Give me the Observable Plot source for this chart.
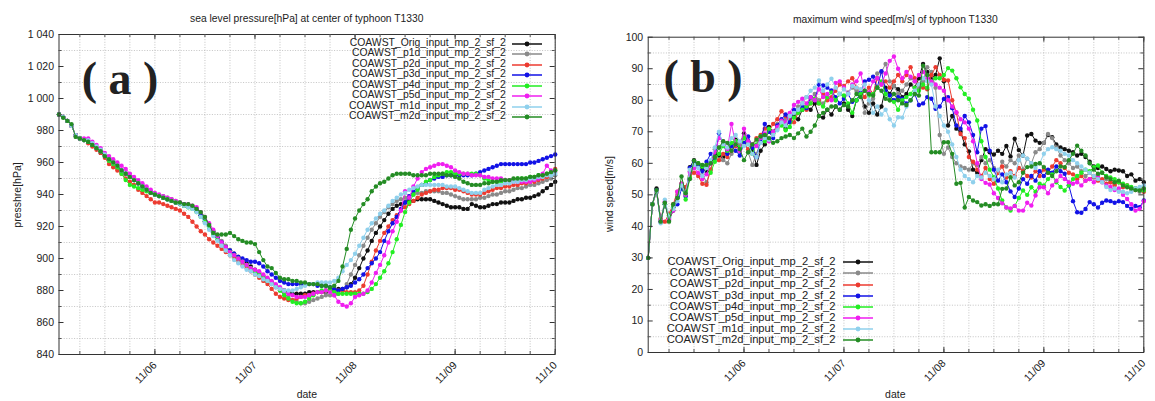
<!DOCTYPE html>
<html><head><meta charset="utf-8">
<script src="https://cdn.jsdelivr.net/npm/d3@7"></script>
<script src="https://cdn.jsdelivr.net/npm/@observablehq/plot@0.6"></script>
<style>
body{margin:0;background:#fff;}
#wrap{position:relative;width:1155px;height:401px;overflow:hidden;font-family:"Liberation Sans",Arial,sans-serif;color:#222;background:#fff;}
.abs{position:absolute;white-space:nowrap;line-height:1;}
.panel{position:absolute;top:0;}
</style></head><body><div id="wrap"></div><script>
// ---------- data ----------
const startTime = "2013-11-05T01:00:00Z";
const endTime = "2013-11-10T00:00:00Z";
const stepHours = 1;
const seriesNames = ["COAWST_Orig_input_mp_2_sf_2","COAWST_p1d_input_mp_2_sf_2","COAWST_p2d_input_mp_2_sf_2","COAWST_p3d_input_mp_2_sf_2","COAWST_p4d_input_mp_2_sf_2","COAWST_p5d_input_mp_2_sf_2","COAWST_m1d_input_mp_2_sf_2","COAWST_m2d_input_mp_2_sf_2"];
const seriesColors = ["#111111","#8a8a8a","#ec3b30","#1212e6","#22ee22","#f01ef0","#8fd0ec","#248c24"];
const dateTicks = ["2013-11-06","2013-11-07","2013-11-08","2013-11-09","2013-11-10"];
const dateTickLabels = ["11/06","11/07","11/08","11/09","11/10"];
const pressureTicks = [840,860,880,900,920,940,960,980,1000,1020,1040];
const pressureTickLabels = ["840","860","880","900","920","940","960","980","1 000","1 020","1 040"];
const windTicks = [0,10,20,30,40,50,60,70,80,90,100];
const titleA = "sea level pressure[hPa] at center of typhoon T1330";
const titleB = "maximum wind speed[m/s] of typhoon T1330";
const yLabelA = "presshre[hPa]";
const yLabelB = "wind speed[m/s]";
const xLabel = "date";
const panelTagA = "( a )";
const panelTagB = "( b )";

const pressOrig = [990,988.5,986,983,977,975,974,973,971,969,966,964,
962,960,957,955,953,951,949,947,945,943,941,940,
939,938,937,936,935,934,933,933,932,930,927,923,
920,917,913,910,907,905,903,901,899,897,895,893,
891,889,887,885,883,881,880,879,878,878,878,878,
879,879,879,879,879,880,880,881,881,882,884,888,
894,900,905,911,916,920,924,928,931,933,934,935,
936,936,937,937,937,937,936,935,934,933,932,932,
932,931,931,934,933,932,932,933,934,934,935,935,
935,936,937,937,938,938,939,940,942,944,946,948];
const pressP1d = [990,988.5,986,983,977,975,974,973,971,969,967,964,
962,960,958,955,953,951,949,947,945,943,942,940,
939,939,938,937,936,935,934,933,932,930,927,924,
921,917,914,911,908,905,903,900,898,896,894,892,
890,888,886,884,882,880,878,876,874,873,872,872,
873,874,875,876,877,877,877,878,880,884,890,896,
902,908,913,918,922,926,929,932,934,936,937,938,
939,940,941,941,942,942,942,942,941,941,940,939,
938,937,937,937,937,938,938,939,940,940,941,942,
942,943,944,944,945,946,946,947,948,949,950,952];
const pressP2d = [990,988.5,986,983,977,975,974,972,970,968,966,963,
959,957,955,953,950,948,946,943,941,939,937,935,
935,934,933,932,931,930,928,926,923,920,917,915,
912,910,908,906,904,902,900,898,896,894,892,890,
888,886,884,881,878,876,875,874,874,875,876,877,
877,878,879,879,880,880,880,880,880,879,879,879,
880,883,890,898,905,911,916,920,924,927,930,932,
934,936,938,940,941,942,943,943,944,944,944,943,
943,942,941,940,940,940,941,942,943,944,944,945,
945,946,946,947,947,948,948,949,950,951,953,956];
const pressP3d = [990,988.5,986,983,977,975,974,973,971,969,967,964,
962,960,958,955,953,951,949,947,945,943,941,940,
939,938,937,936,935,934,934,933,932,930,927,923,
919,916,913,910,907,905,903,901,900,899,898,898,
897,895,892,890,888,886,885,884,884,884,884,884,
884,884,883,883,883,882,881,880,881,882,883,885,
887,890,894,897,900,904,911,917,922,926,931,935,
939,942,944,946,947,949,950,951,951,952,952,952,
952,952,952,952,953,954,955,956,957,958,959,959,
959,959,959,959,959,960,960,961,962,963,964,965];
const pressP4d = [990,988.5,986,983,977,975,974,973,971,969,967,964,
961,959,957,953,949,946,945,944,943,942,941,940,
939,938,937,936,935,934,933,932,931,929,926,923,
919,915,912,909,906,904,902,900,898,896,894,892,
890,888,886,885,883,880,877,875,873,872,872,873,
875,877,879,880,880,880,879,878,878,878,878,878,
878,878,879,881,884,888,892,897,904,912,921,929,
935,940,943,946,948,949,951,952,953,954,954,953,
953,953,953,953,953,952,950,949,948,948,948,949,
949,949,950,950,950,951,951,952,952,953,954,955];
const pressP5d = [990,988.5,986,983,977,975,975,975,973,971,969,966,
964,962,960,958,956,953,951,949,947,945,943,941,
940,939,938,937,936,935,934,934,933,932,929,926,
922,918,914,910,907,904,902,900,898,896,894,893,
892,890,888,886,884,882,880,878,877,876,876,876,
877,878,879,879,880,879,877,873,871,870,872,876,
877,878,880,885,891,896,902,910,917,923,930,942,
938,945,950,954,956,957,958,959,959,958,957,955,
954,953,953,952,952,952,951,951,950,950,950,949,
949,948,948,948,948,948,949,950,953,958,955,954];
const pressM1d = [990,988.5,986,983,977,975,974,974,972,970,968,965,
962,960,958,955,953,951,949,947,945,943,941,940,
939,938,937,936,935,934,933,932,931,929,926,922,
918,914,911,908,905,902,899,897,895,893,892,890,
889,887,886,884,882,881,880,880,880,881,882,883,
884,884,885,885,885,885,886,888,892,896,899,903,
908,913,918,922,925,928,930,933,936,938,940,941,
943,944,945,946,946,946,946,946,946,945,945,945,
944,943,942,941,941,941,943,944,945,946,946,947,
947,948,948,949,949,950,950,951,951,952,952,953];
const pressM2d = [990,988,986,984,976,975,974,973,971,969,967,964,
962,960,958,955,953,951,949,947,945,943,941,940,
939,938,937,936,935,935,934,934,933,931,929,926,
921,916,915,915,915,916,914,912,911,910,910,909,
904,899,895,894,891,888,887,887,886,886,885,885,
884,884,884,883,883,882,883,886,895,906,918,925,
930,934,937,942,945,947,948,950,952,953,953,953,
953,952,952,952,952,953,953,953,953,952,952,951,
950,948,947,946,946,946,947,947,948,948,949,949,
949,950,950,950,950,951,951,952,952,953,954,955];

const windOrig = [30,47,52,41.5,47.5,42,45,49,53,50,58.8,61,
59.5,58,57.5,60,63,62.5,62,64,66,67.5,66,69.5,
67,64,59.5,64,66,71.5,70,72,73,71,74,75,
74,77,78,77,79,75,74.5,77,75.5,78,77,79,
77,75,80,82,78,76,79,75.5,78,84,82,84.5,
83.5,81,82,85,84,87,91.5,89,87,88,93.3,86,
72,75,71,70,66,63.8,58,57,61,64.5,63.5,62.8,
64,63,65.5,62.2,67.8,64.2,62.5,68.8,69.3,67.2,66.5,66.5,
69,68.3,66,65,64.5,64,63.5,62.5,63,62,60.5,59,
58.5,59,58.2,57.5,58,57.7,57.5,56,56.5,54.5,55,54];
const windP1d = [30,47,51,42,47,43,46,50,53.5,51,57.5,60,
59,56.5,54,58,64.5,65,61,60,63,67,66,68.5,
63.5,59.5,63,67,69,70,69,72.5,73,74,73,76,
78,79,81,80.5,82,80,79,81,80.5,80,82,81,
82.5,84,83,82,76,79,80.5,88.5,89,91.5,86,84.5,
82,83,85,87,86,84,86,90.5,89,84,69,63,
65,62,60,59,58.5,58,60,59.5,62,60,61,58.5,
57,60.5,59,61,60,62.5,58,61.5,60,63.5,64.5,66.5,
69.3,68,65,62.5,61,60,58.5,59,57.5,56,57,55.5,
56,54.5,55,54,53.5,54,52.5,53,51.5,52,51,52];
const windP2d = [30,47,51,42.5,41.5,44,47,51,53.5,52.5,56,57,
56,53.5,53.2,58,62,61,63,62,64,65.5,64,66,
64.5,66,68,69,71,70,72.5,74,76.5,75,74,73,
76,78,77,79,80.5,79,82,80,81,83,85,84.5,
86,87,84,83,81,84,82,87,85,86,84,86,
88,86,88,90.5,87,85,84,83.5,88,90.5,88,86.5,
86.3,80,76,69.3,68,62,60.5,58,56,58.5,55,53.5,
57,59,55.5,57.5,56,58.5,57.5,56,55.5,57.5,56,58,
57,59,61,60,58.5,57,56.5,55,56,54.5,55,56,
54.5,55,53.5,54,53,54,52.5,53,52,51.5,52,51];
const windP3d = [30,47,51.5,41.5,47,43,46,47,52,49.5,58.5,60.5,
59,57.5,60.5,63,61.5,69.5,66,63,65.5,64,62.5,66.5,
68.5,65,62,67,72.5,70,68,72,74,75.5,73,77,
76.5,78,77.5,81,80,85,84.7,84,83.1,81,79,80.5,
82,79.5,80,82.5,86,86.5,87.5,84,89.2,83,81.5,80,
81,80.5,79,80,82,78.5,79,81,80.5,77.3,78,80.4,
81,77.5,72,71,75,73,69,63.5,71,71.8,64,58,
54.5,56.5,54,51.1,49.3,52,55,53.5,56,54.5,57.5,56,
58,57,59,57.5,56.7,53,48,44.5,44.3,45.5,47.7,47,
46,47.5,48.2,48,47.5,48,47.7,46.5,45.6,46.5,46.1,48.2];
const windP4d = [30,47,51,42,47,43.5,46,49,53,48.5,55.5,59.5,
60,59,59.5,57,60.5,63,65.5,64,66.5,67,65,68,
66.5,63,66,68.5,67,71,69.5,71,72,70.5,71.5,74.5,
76,77,78,79,80.5,79,78,81,82.5,80,82,81.5,
79,76,80,82,83,81.5,82,84,86,82,80,79.5,
77,80,81,82,84,83,85,84,86,87,87,88,
90.2,89.4,87,84.1,82,80.5,77,73.6,67,62,58,55.6,
52,48.2,46,45,46.5,49,51.4,50,52.4,51,53.5,53,
55,56.5,54,52.5,51.4,53,55,56,57,58,57.5,58.8,
59.3,57,56,55.5,55,54,53.5,53,52.5,52,51.5,51.4];
const windP5d = [30,47,51,42,48,42.5,45,51,53.5,50,57,58.5,
57,55,56.5,60,63.5,68,67,64.5,72.5,66,64,71,
67,66,65.5,68,69.5,67,70,71.5,73.5,73,76,78.5,
79.5,80.5,79,81,80,83.5,81,82,80,85.5,86,84,
82,85,86,88.5,83,82.5,86,87,85,88.5,92.5,93.9,
90,87,89,87.5,86,88,89,87,86,85,84,83,
80,78,76.2,74,73,71,67,60,55,53.8,53.3,50.5,
49,47.3,46,45.7,46.5,45,45,47.5,46.6,49.8,52.4,52.4,
50.5,53,54.5,56,55,54,53.5,54,53,54.5,55,54,
55.5,54,53,52.5,51.5,52,50,48.7,47,45,45.5,48];
const windM1d = [30,47,51,41,48.5,43,45.5,48,53,50.5,58,59.5,
58.5,56,58.5,61,65,70,66,65,68,69,67,65.5,
66,63,62,66.5,68,67.5,69,70.5,73,72,75,76,
77,79,81,83,84,86.3,83,85,86.8,84,82,83.5,
82,84.5,84,83.5,85,80,76,78,75.5,77,74,72,
74.6,74.5,78,80,83,85,87,86,85,78,75,72,
70,66,62,58,56,55,54,56,55.5,57,56,55,
58,54,56.5,57,55.5,61,62.5,61.5,60,58.5,60,63,
64.5,65.1,64.5,64,63,62.5,61,60,59,58,57,56,
55,54,52.5,51.5,52,51,51,50.5,51,52,52.5,53];
const windM2d = [30,47,51.5,41.5,47.5,41.5,47,49,55.8,50.5,55,60.8,
60,59.5,59.5,60,62,65,67,66.5,64,66,64.5,61,
63.5,66,67.5,68.5,69,68,66.5,67,68,68.5,69,68,
69.5,71,68.5,70,72,75,76,77,78,78,77,78.5,
78,80,82,81,83,82,81.5,84,83,80.5,80,82,
80,79,78.5,80,82,81.5,91,88,63.5,63.5,63.5,66.7,
66.7,63,53.5,53.8,46,49.3,48.2,47.7,46.6,47,46.5,47.1,
47,51.9,52,55.6,53,54,57,58.8,59,59.8,60,58.8,
57,56,57.5,59,58.8,61,63,65.6,64,62.5,60,58,
56.7,57,55.6,55,54,54.5,53,52.4,52,51.5,51.4,52];

const pressureSeries = [pressOrig,pressP1d,pressP2d,pressP3d,pressP4d,pressP5d,pressM1d,pressM2d];
const windSeries = [windOrig,windP1d,windP2d,windP3d,windP4d,windP5d,windM1d,windM2d];

// ---------- build ----------
const t0 = new Date(startTime), t1 = new Date(endTime);
const timeAt = i => new Date(+t0 + i * stepHours * 3600e3);
const toRows = arrs => arrs.map((vals, s) => vals.map((v, i) => ({series: seriesNames[s], t: timeAt(i), v})));
const days = dateTicks.map(d => new Date(d + "T00:00:00Z"));
const sixHours = d3.utcHour.every(6).range(t0, new Date(+t1 + 1));
const dayLabel = d => dateTickLabels[days.findIndex(x => +x === +d)];

function panel({rows, yDomain, yMajor, yMinor, yFmt, width, height, ml, mr, mt, mb}) {
  const pw = width - ml - mr, ph = height - mt - mb;
  const grid = {stroke: "#b5b5b5", strokeOpacity: 1, strokeDasharray: "1,1.6", strokeWidth: 0.8};
  const marks = [
    Plot.gridX({ticks: sixHours, ...grid}),
    Plot.gridY({ticks: yMinor, ...grid})
  ];
  rows.forEach((r, s) => {
    marks.push(Plot.line(r, {x: "t", y: "v", stroke: seriesColors[s], strokeWidth: 1}));
    marks.push(Plot.dot(r, {x: "t", y: "v", fill: seriesColors[s], r: 2.2}));
  });
  marks.push(
    Plot.frame({stroke: "#333", strokeWidth: 1}),
    Plot.tickX(days, {x: d => d, insetTop: ph - 5, stroke: "#333"}),
    Plot.tickX(days, {x: d => d, insetBottom: ph - 5, stroke: "#333"}),
    Plot.tickX(sixHours, {x: d => d, insetTop: ph - 3, stroke: "#555"}),
    Plot.tickX(sixHours, {x: d => d, insetBottom: ph - 3, stroke: "#555"}),
    Plot.tickY(yMajor, {y: d => d, insetRight: pw - 5, stroke: "#333"}),
    Plot.tickY(yMajor, {y: d => d, insetLeft: pw - 5, stroke: "#333"}),
    Plot.tickY(yMinor, {y: d => d, insetRight: pw - 3, stroke: "#555"}),
    Plot.tickY(yMinor, {y: d => d, insetLeft: pw - 3, stroke: "#555"}),
    Plot.axisY({ticks: yMajor, tickSize: 0, tickPadding: 5, tickFormat: yFmt, label: null}),
    Plot.axisX({ticks: days, tickSize: 0, tickPadding: 9, tickRotate: -45, tickFormat: dayLabel, label: null})
  );
  return Plot.plot({
    width, height, marginLeft: ml, marginRight: mr, marginTop: mt, marginBottom: mb,
    style: {fontFamily: "'Liberation Sans', Arial, sans-serif", fontSize: "10.5px", color: "#222", background: "transparent"},
    x: {type: "utc", domain: [t0, t1]},
    y: {domain: yDomain},
    marks
  });
}

const wrap = document.getElementById("wrap");
const svgA = panel({
  rows: toRows(pressureSeries), yDomain: [840, 1040], yMajor: pressureTicks,
  yMinor: d3.range(850, 1040, 10).filter(v => !pressureTicks.includes(v)),
  yFmt: d => pressureTickLabels[pressureTicks.indexOf(d)],
  width: 577, height: 401, ml: 58.5, mr: 22.3, mt: 34, mb: 47
});
svgA.classList.add("panel"); svgA.style.left = "0px";
wrap.appendChild(svgA);
const svgB = panel({
  rows: toRows(windSeries), yDomain: [0, 100], yMajor: windTicks,
  yMinor: d3.range(5, 100, 10),
  yFmt: d => String(d),
  width: 577, height: 401, ml: 69.7, mr: 11.7, mt: 36.7, mb: 49
});
svgB.classList.add("panel"); svgB.style.left = "578px";
wrap.appendChild(svgB);

function text(str, cx, cy, css, rotate) {
  const d = document.createElement("div");
  d.className = "abs";
  d.textContent = str;
  d.style.left = cx + "px"; d.style.top = cy + "px";
  d.style.transform = "translate(-50%,-50%)" + (rotate ? " rotate(" + rotate + "deg)" : "");
  Object.assign(d.style, css || {});
  wrap.appendChild(d);
}
text(titleA, 306.8, 18.5, {fontSize: "10.3px"});
text(titleB, 895.4, 20, {fontSize: "10.3px"});
text(yLabelA, 16.7, 195, {fontSize: "10.5px"}, -90);
text(yLabelB, 609.3, 193.7, {fontSize: "10.5px"}, -90);
text(xLabel, 306.9, 394, {fontSize: "10.5px"});
text(xLabel, 895.3, 394, {fontSize: "10.5px"});
const tagCss = {fontFamily: "'Liberation Serif', 'Times New Roman', serif", fontWeight: "bold", fontSize: "46px"};
text(panelTagA, 120, 79, tagCss);
text(panelTagB, 703, 77, tagCss);

function legend(textRight, lineLeft, lineRight, cy0, dy, fontSize) {
  seriesNames.forEach((name, k) => {
    const cy = cy0 + dy * k;
    const d = document.createElement("div");
    d.className = "abs";
    d.textContent = name;
    d.style.right = (1155 - textRight) + "px";
    d.style.top = (cy - fontSize * 0.55) + "px";
    d.style.fontSize = fontSize + "px";
    wrap.appendChild(d);
    const w = lineRight - lineLeft;
    const s = d3.create("svg").attr("width", w).attr("height", 8)
      .style("position", "absolute").style("left", lineLeft + "px").style("top", (cy - 4) + "px");
    s.append("line").attr("x1", 0).attr("x2", w).attr("y1", 4).attr("y2", 4).attr("stroke", seriesColors[k]).attr("stroke-width", 1.5);
    s.append("circle").attr("cx", w / 2).attr("cy", 4).attr("r", 2.4).attr("fill", seriesColors[k]);
    wrap.appendChild(s.node());
  });
}
legend(505.8, 512, 542, 43.7, 10.47, 10.4);
legend(835.5, 843, 873, 262.3, 11.15, 11.2);
</script></body></html>
